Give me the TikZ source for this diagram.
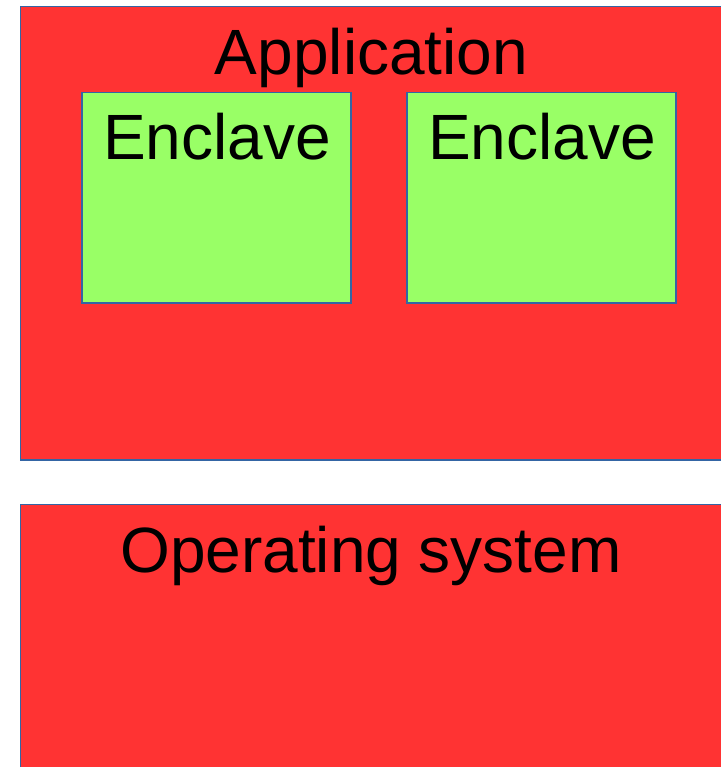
\documentclass[tikz,border=0pt]{standalone}
\usepackage{fontspec}
\setmainfont{Liberation Sans}
\definecolor{appred}{HTML}{FF3333}
\definecolor{enclgreen}{HTML}{99FF66}
\definecolor{edgeblue}{HTML}{3465A4}
\begin{document}
\begin{tikzpicture}[x=1pt,y=-1pt,
  layer/.style={fill=appred,draw=edgeblue,line width=1.2pt},
  enclbox/.style={fill=enclgreen,draw=edgeblue,line width=1.2pt},
  label/.style={anchor=base,inner sep=0pt,font=\fontsize{64}{64}\selectfont}]
\useasboundingbox (0,0) rectangle (720,767);
% application layer with its two enclaves
\draw[layer] (20.5,6.5) rectangle (725,460);
\node[label] (app) at (371.5,75) {Application};
\draw[enclbox] (82,92.5) rectangle (351,303);
\draw[enclbox] (407,92.5) rectangle (676,303);
\node[label] (encA) at (217,160) {Enclave};
\node[label] (encB) at (542,160) {Enclave};
% operating system layer
\draw[layer] (20.5,504.5) rectangle (725,775);
\node[label] (os) at (371,572) {Operating system};
\end{tikzpicture}
\end{document}
